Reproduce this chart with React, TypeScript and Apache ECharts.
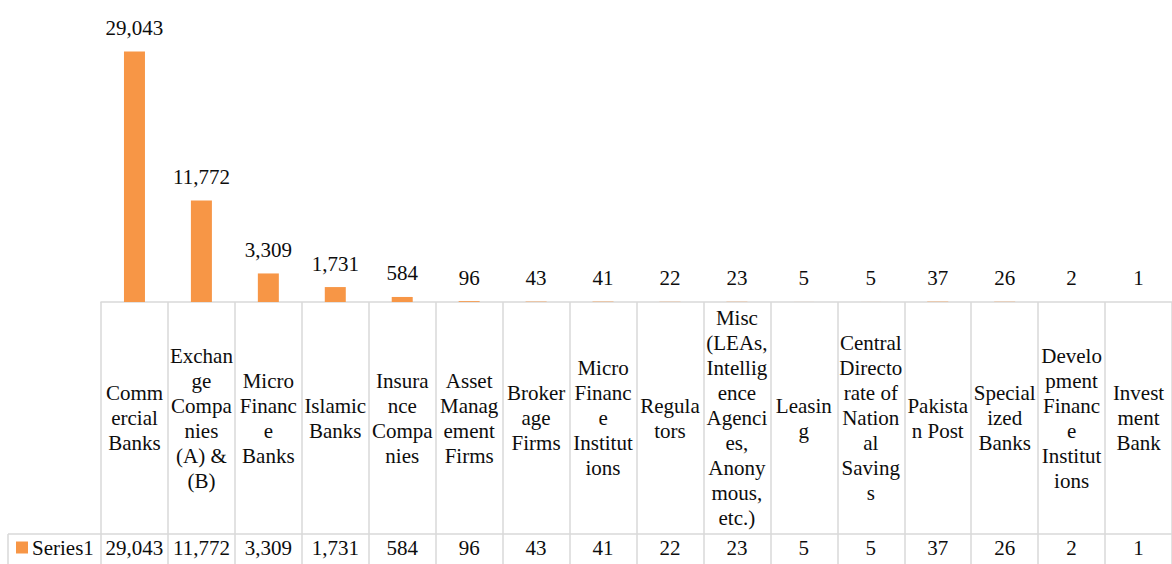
import React, { useEffect, useRef } from "react";
import * as echarts from "echarts";

const categories: string[] = [
  "Comm\nercial\nBanks",
  "Exchan\nge\nCompa\nnies\n(A) &\n(B)",
  "Micro\nFinanc\ne\nBanks",
  "Islamic\nBanks",
  "Insura\nnce\nCompa\nnies",
  "Asset\nManag\nement\nFirms",
  "Broker\nage\nFirms",
  "Micro\nFinanc\ne\nInstitut\nions",
  "Regula\ntors",
  "Misc\n(LEAs,\nIntellig\nence\nAgenci\nes,\nAnony\nmous,\netc.)",
  "Leasin\ng",
  "Central\nDirecto\nrate of\nNation\nal\nSaving\ns",
  "Pakista\nn Post",
  "Special\nized\nBanks",
  "Develo\npment\nFinanc\ne\nInstitut\nions",
  "Invest\nment\nBank",
];

const series1: number[] = [29043, 11772, 3309, 1731, 584, 96, 43, 41, 22, 23, 5, 5, 37, 26, 2, 1];

const seriesName = "Series1";

const FONT = "Liberation Serif";
const ORANGE = "#F79646";
const GRID = "#d9d9d9";
const fmt = (v: number) => v.toLocaleString("en-US");

export default function App() {
  const ref = useRef<HTMLDivElement>(null);
  useEffect(() => {
    if (!ref.current) return;
    const chart = echarts.init(ref.current, null, { renderer: "svg" });
    chart.setOption({
      animation: false,
      backgroundColor: "#ffffff",
      textStyle: { fontFamily: FONT },
      legend: {
        data: [seriesName],
        left: 16,
        top: 537,
        icon: "rect",
        itemWidth: 12,
        itemHeight: 12,
        itemGap: 0,
        padding: 0,
        textStyle: { fontFamily: FONT, fontSize: 21, color: "#0d0d0d", padding: [0, 0, 0, -1] },
      },
      grid: { left: 101, right: 0, top: 0, bottom: 262, containLabel: false },
      xAxis: [
        {
          type: "category",
          data: categories,
          position: "bottom",
          axisLine: { show: true, lineStyle: { color: GRID, width: 1.5 } },
          axisTick: { show: true, interval: 0, length: 262, lineStyle: { color: GRID, width: 1.5 } },
          axisLabel: {
            interval: 0,
            margin: 116,
            verticalAlign: "middle",
            align: "center",
            fontFamily: FONT,
            fontSize: 21,
            lineHeight: 25,
            color: "#0d0d0d",
          },
        },
        {
          type: "category",
          data: categories,
          position: "bottom",
          offset: 232,
          axisLine: { show: false },
          axisTick: { show: false },
          axisLabel: {
            interval: 0,
            margin: 14,
            verticalAlign: "middle",
            fontFamily: FONT,
            fontSize: 21,
            color: "#0d0d0d",
            formatter: (_v: string, i: number) => fmt(series1[i]),
          },
        },
      ],
      yAxis: { type: "value", min: 0, max: 35000, show: false, splitLine: { show: false } },
      series: [
        {
          name: seriesName,
          type: "bar",
          data: series1,
          barWidth: 21,
          itemStyle: { color: ORANGE },
          label: {
            show: true,
            position: "top",
            distance: 13,
            fontFamily: FONT,
            fontSize: 21,
            color: "#0d0d0d",
            formatter: (p: any) => fmt(p.value),
          },
        },
      ],
      graphic: [
        { type: "line", shape: { x1: 8, y1: 534, x2: 1172, y2: 534 }, style: { stroke: GRID, lineWidth: 1.5 } },
        { type: "line", shape: { x1: 8, y1: 534, x2: 8, y2: 564 }, style: { stroke: GRID, lineWidth: 1.5 } },
      ],
    });
    return () => chart.dispose();
  }, []);
  return (
    <div
      ref={ref}
      style={{ position: "fixed", left: 0, top: 0, width: 1172, height: 564 }}
    />
  );
}
